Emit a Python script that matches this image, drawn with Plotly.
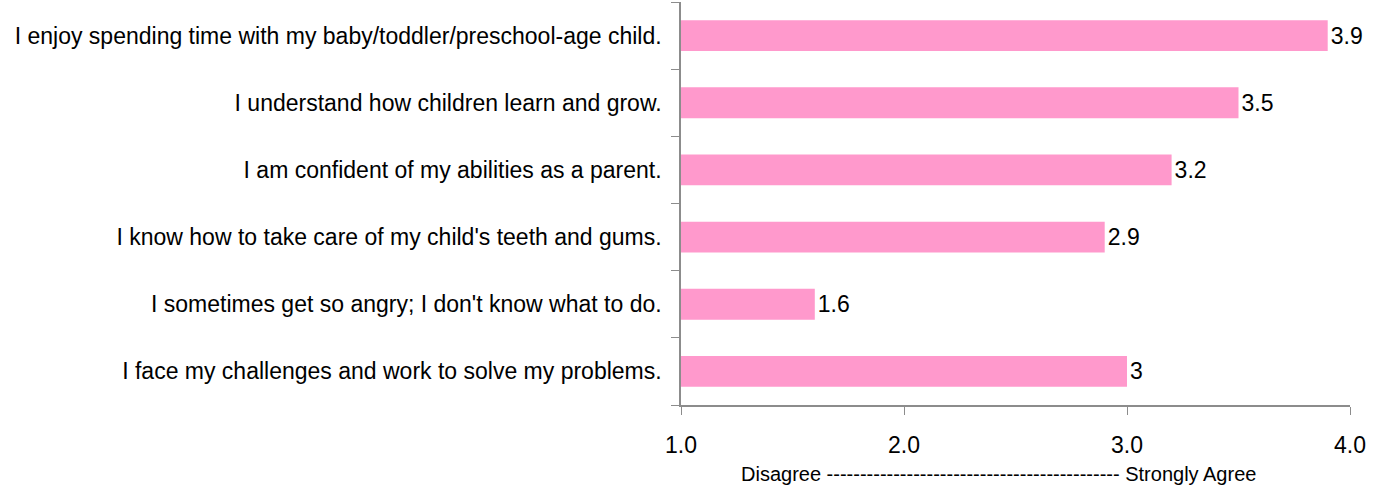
import plotly.graph_objects as go

statements = [
    "I enjoy spending time with my baby/toddler/preschool-age child.",
    "I understand how children learn and grow.",
    "I am confident of my abilities as a parent.",
    "I know how to take care of my child's teeth and gums.",
    "I sometimes get so angry; I don't know what to do.",
    "I face my challenges and work to solve my problems.",
]
mean_scores = [3.9, 3.5, 3.2, 2.9, 1.6, 3.0]
x_ticks = [1, 2, 3, 4]
x_tick_labels = ["1.0", "2.0", "3.0", "4.0"]
scale_caption = "Disagree " + "-" * 44 + " Strongly Agree"

axis_grey = "#8c8c8c"
font_family = "Liberation Sans, Arial, sans-serif"

fig = go.Figure(
    go.Bar(
        y=statements,
        x=[v - 1 for v in mean_scores],
        base=1,
        orientation="h",
        marker=dict(color="#FF99CC", line=dict(width=0)),
        text=[f"{v:g}" for v in mean_scores],
        textposition="outside",
        textfont=dict(size=23, color="#000000", family=font_family),
        cliponaxis=False,
        hoverinfo="skip",
    )
)

fig.update_layout(
    width=1383,
    height=493,
    margin=dict(l=681, r=33, t=2, b=88),
    paper_bgcolor="white",
    plot_bgcolor="white",
    bargap=0.54,
    showlegend=False,
    font=dict(family=font_family, color="#000000"),
)

# scale caption under the value axis, slightly left of the plot centre
fig.add_annotation(
    text=scale_caption,
    xref="paper",
    yref="paper",
    x=0.474,
    y=-0.17,
    xanchor="center",
    yanchor="middle",
    showarrow=False,
    font=dict(size=20, color="#000000", family=font_family),
)

fig.update_xaxes(
    range=[1, 4],
    tickvals=x_ticks,
    ticktext=x_tick_labels,
    tickfont=dict(size=23),
    ticks="outside",
    ticklen=8,
    tickcolor=axis_grey,
    showline=True,
    linecolor=axis_grey,
    linewidth=1.5,
    showgrid=False,
    zeroline=False,
    ticklabelstandoff=11,
)

fig.update_yaxes(
    categoryorder="array",
    categoryarray=statements[::-1],
    tickson="boundaries",
    ticks="outside",
    ticklen=8,
    tickcolor=axis_grey,
    showline=True,
    linecolor=axis_grey,
    linewidth=1.5,
    showgrid=False,
    tickfont=dict(size=23),
    ticklabelstandoff=13,
)

fig.write_html("out.html")
